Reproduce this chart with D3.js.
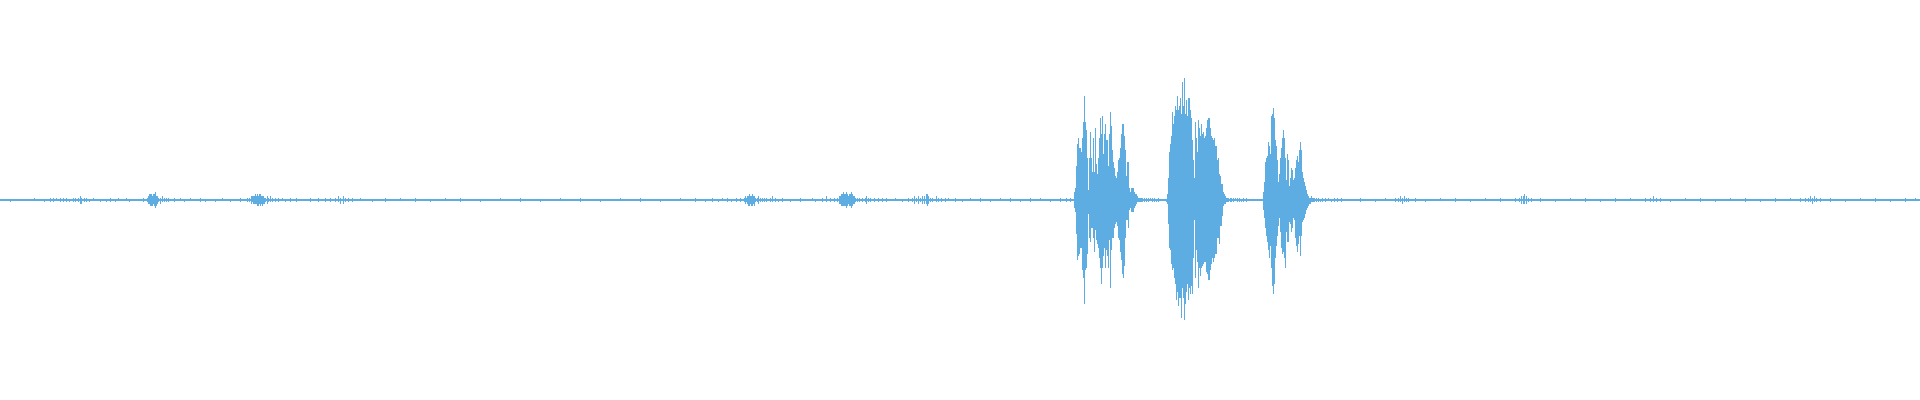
<!DOCTYPE html>
<html>
<head>
<meta charset="utf-8">
<script src="https://cdn.jsdelivr.net/npm/d3@7"></script>
<style>
html,body{margin:0;padding:0;background:#fff;}
svg{display:block;}
</style>
</head>
<body>
<svg id="chart" width="1920" height="400"></svg>
<script>
// Waveform envelope, one frame = one time step; amplitudes in % of full scale
const totalFrames = 1920;

// Burst 1 (starting frame 1074)
const burst1Start = 1074;
const burst1Max = [4,6,17,28,31,26,26,24,31,39,52,39,35,21,5,21,34,21,14,31,14,36,18,13,21,31,41,33,42,23,33,38,30,30,17,33,44,37,25,19,16,12,11,14,20,21,26,33,38,38,32,25,12,19,19,6,4,6,6,6,4,3,3,2,1,1,1,1,1];
const burst1Min = [-4,-6,-17,-30,-28,-27,-24,-24,-35,-39,-52,-35,-34,-27,-7,-19,-21,-14,-14,-19,-26,-15,-20,-22,-24,-29,-34,-42,-34,-28,-24,-34,-25,-28,-34,-20,-44,-25,-19,-19,-14,-12,-11,-13,-19,-20,-26,-30,-37,-39,-33,-19,-10,-10,-14,-5,-4,-6,-6,-6,-4,-3,-2,-1,-1,-1,-1,-1,-1];

// Burst 2 (starting frame 1166)
const burst2Start = 1166;
const burst2Max = [0,3,11,24,28,32,44,38,42,47,45,52,45,47,51,43,59,47,61,43,50,42,51,51,45,41,30,20,11,39,31,24,40,36,32,38,33,34,31,32,36,40,41,41,36,32,31,30,31,27,27,20,21,13,12,8,8,4,3,2,1,1,1];
const burst2Min = [-1,-2,-12,-24,-25,-32,-35,-34,-39,-42,-50,-46,-53,-49,-49,-59,-44,-49,-60,-52,-46,-42,-50,-44,-47,-43,-47,-29,-10,-39,-25,-31,-44,-34,-38,-34,-33,-32,-31,-31,-36,-37,-40,-40,-35,-32,-29,-31,-29,-27,-27,-19,-19,-22,-13,-13,-8,-3,-2,-2,-1,-1,-1];

// Burst 3 (starting frame 1263)
const burst3Start = 1263;
const burst3Max = [4,9,19,21,22,29,27,23,42,43,46,41,30,27,20,9,13,21,26,31,35,31,21,10,23,20,7,11,16,15,10,11,16,20,22,19,25,29,25,14,11,9,7,5,3,2,1,1,2,1,1,1];
const burst3Min = [-5,-9,-14,-18,-21,-25,-29,-23,-34,-43,-47,-42,-29,-23,-18,-13,-9,-16,-24,-27,-26,-29,-34,-16,-21,-21,-11,-12,-16,-14,-9,-10,-19,-23,-26,-22,-18,-28,-18,-11,-10,-9,-7,-5,-4,-3,-2,-2,-1,-1,-1,-1];

// Low-level noise between the bursts: [frame, max, min]
const quietBlips = [
[10,0,-1],[34,1,0],[44,0,-1],[50,1,-1],[53,1,-1],[56,1,0],[60,1,-1],[63,1,-1],[66,1,-1],[69,0,-1],[73,1,-1],[75,1,-1],[78,1,-1],[80,2,-2],[81,1,-2],[84,1,-1],[86,1,-1],[89,0,-1],[93,1,0],[100,0,-1],[106,0,-1],[110,1,-1],[115,0,-1],[118,1,0],
[126,1,0],[129,0,-1],[143,1,-1],
[147,1,-1],[148,2,-2],[149,3,-2],[150,3,-3],[151,3,-3],[152,2,-3],[153,3,-2],[154,3,-3],[155,4,-4],[156,2,-3],[157,2,-2],[158,1,-1],
[160,1,-2],[162,2,-1],[164,1,-1],[166,1,-1],[168,1,-1],[174,1,-1],[180,1,0],[184,0,-1],[190,1,0],[200,1,-1],[205,0,-1],[215,0,-1],[222,1,0],[230,0,-1],[240,1,-1],
[247,1,-1],[249,1,-1],[251,2,-2],[252,2,-1],[253,2,-2],[254,2,-2],[255,3,-2],[256,2,-2],[257,3,-3],[258,2,-3],[259,3,-2],[260,3,-3],[261,2,-2],[262,2,-3],[263,2,-2],[264,1,-2],[265,1,-1],[267,2,-2],[268,1,-1],[270,2,-1],[272,1,-1],
[275,1,-1],[278,1,-1],[282,1,0],[285,0,-1],[290,1,-1],[296,1,-1],
[310,1,-1],[318,1,-1],[325,1,-1],[330,1,-1],[335,1,-1],[338,2,-1],[340,1,-2],[343,2,-2],[345,1,-1],[348,1,-1],[352,1,-1],[360,1,0],[372,0,-1],[385,1,-1],[400,1,0],[415,1,-1],[430,0,-1],[445,1,0],[460,1,-1],[480,0,-1],[500,1,0],[520,1,-1],[540,0,-1],[560,1,0],[580,1,-1],[600,0,-1],[620,1,0],[640,1,-1],[660,0,-1],[680,1,0],[695,1,-1],
[705,0,-1],[712,1,-1],[718,0,-1],[722,1,0],[727,1,-1],[731,0,-1],[736,1,-1],[740,1,-1],
[744,1,-1],[745,2,-2],[746,1,-1],[747,2,-2],[748,2,-3],[749,3,-3],[750,2,-2],[751,2,-3],[752,3,-3],[753,2,-2],[754,2,-3],[755,1,-1],[757,1,-1],[758,2,-2],[760,1,-1],[762,1,-1],[764,1,-1],[766,1,-1],
[770,1,-1],[772,2,-1],[775,1,-1],[778,0,-1],[782,1,-1],[790,0,-1],[800,1,-1],[812,1,0],[815,0,-1],[822,1,-1],[826,2,-1],[830,1,-1],[834,1,-1],
[837,1,-1],[839,2,-2],[840,2,-2],[841,3,-3],[842,3,-3],[843,4,-3],[844,3,-3],[845,3,-3],[846,4,-4],[847,3,-3],[848,2,-2],[849,3,-3],[850,3,-3],[851,4,-4],[852,3,-3],[853,2,-2],[854,2,-2],[855,1,-1],[857,1,-1],[859,1,-1],
[862,1,-1],[865,1,-1],[866,2,-2],[868,1,-1],[870,1,-1],[874,1,-1],[878,1,-1],[882,1,-1],[886,1,-1],
[895,1,0],[902,0,-1],[908,1,-1],[912,1,-1],[914,2,-2],[916,1,-1],[918,2,-2],[920,1,-1],[922,2,-2],[924,2,-2],[926,3,-2],[927,3,-3],[928,2,-2],[930,1,-1],[932,1,-1],
[936,2,-1],[938,1,-1],[941,1,-1],[945,1,-1],[948,1,0],
[955,1,-1],[962,0,-1],[970,1,0],[980,1,-1],[990,0,-1],[1000,1,0],[1010,1,-1],[1020,0,-1],[1030,1,-1],[1040,1,0],[1050,0,-1],[1060,1,-1],[1066,1,-1],[1070,1,-1],
[1144,1,-1],[1146,1,-1],[1148,1,-1],[1150,1,0],[1152,1,-1],[1154,1,-1],[1156,0,-1],[1158,1,-1],
[1230,1,-1],[1231,1,-1],[1233,1,-1],[1235,1,0],[1237,1,-1],[1239,1,-1],[1241,0,-1],[1243,1,-1],[1246,1,-1],
[1316,1,-1],[1318,1,-1],[1320,0,-1],[1322,1,-1],[1325,1,-1],[1328,1,0],[1331,0,-1],[1334,1,-1],[1337,1,-1],[1341,1,-1],
[1360,1,-1],[1375,0,-1],[1385,1,0],[1395,1,-1],[1398,1,-1],[1400,2,-1],[1402,1,-2],[1404,2,-1],[1406,1,-1],[1408,1,-1],[1415,1,-1],[1425,0,-1],[1440,1,0],[1455,1,-1],[1470,0,-1],[1485,1,0],[1500,1,-1],
[1515,1,-1],[1519,1,-1],[1521,2,-2],[1523,2,-2],[1524,3,-2],[1526,2,-2],[1528,1,-1],[1531,1,-1],[1540,1,-1],[1555,0,-1],[1570,1,0],[1585,1,-1],[1600,0,-1],[1615,1,-1],[1630,1,0],
[1645,1,-1],[1650,1,-1],[1653,2,-1],[1656,1,-1],[1660,1,-1],[1670,0,-1],[1685,1,0],[1700,1,-1],[1715,0,-1],[1730,1,0],[1745,1,-1],[1760,0,-1],[1775,1,-1],[1790,1,0],
[1800,1,-1],[1805,1,-1],[1808,1,-1],[1810,2,-1],[1812,1,-2],[1814,2,-1],[1816,1,-1],[1820,1,-1],[1830,1,-1],[1845,0,-1],[1860,1,0],[1875,1,-1],[1890,0,-1],[1905,1,-1],[1915,1,0]
];

// ---- assemble frames ----
const frames = [];
quietBlips.forEach(([f, mx, mn]) => frames.push({f, max: mx, min: mn}));
[[burst1Start, burst1Max, burst1Min],[burst2Start, burst2Max, burst2Min],[burst3Start, burst3Max, burst3Min]]
  .forEach(([s, mx, mn]) => mx.forEach((v, i) => frames.push({f: s + i, max: v, min: mn[i]})));

const W = 1920, H = 400;
const color = "#5DADE2";
const x = d3.scaleLinear().domain([0, totalFrames]).range([0, W]);
const y = d3.scaleLinear().domain([-100, 100]).range([H, 0]);

const svg = d3.select("#chart");

// baseline (zero amplitude)
svg.append("line")
  .attr("x1", x(0)).attr("x2", x(totalFrames))
  .attr("y1", y(0)).attr("y2", y(0))
  .attr("stroke", color).attr("stroke-width", 2);

// envelope columns
svg.append("g").selectAll("rect")
  .data(frames)
  .join("rect")
  .attr("x", d => x(d.f))
  .attr("width", d => x(d.f + 1) - x(d.f))
  .attr("y", d => y(d.max))
  .attr("height", d => Math.max(0, y(d.min) - y(d.max)))
  .attr("fill", color)
  .attr("shape-rendering", "crispEdges");
</script>
</body>
</html>
